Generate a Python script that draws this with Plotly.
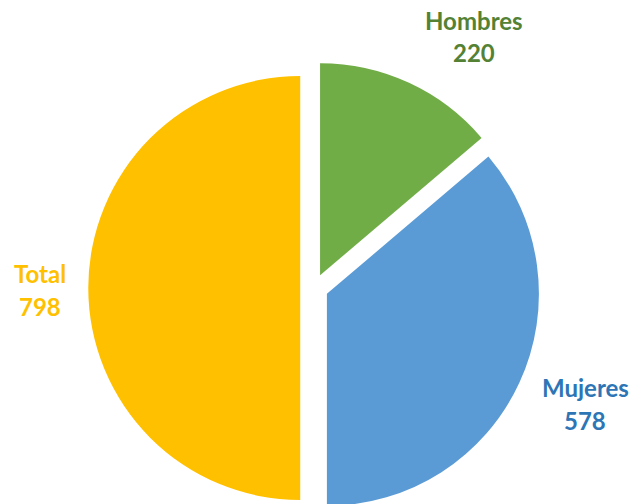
import plotly.graph_objects as go

labels = ["Hombres", "Mujeres", "Total"]
values = [220, 578, 798]
slice_colors = ["#70AD47", "#5B9BD5", "#FFC000"]
label_colors = ["#548235", "#2E75B6", "#FFC000"]

W, H = 632, 514
PULL = 0.066

fig = go.Figure(go.Pie(
    labels=labels,
    values=values,
    sort=False,
    direction="clockwise",
    rotation=0,
    pull=[PULL] * len(values),
    marker=dict(colors=slice_colors, line=dict(width=0)),
    textinfo="none",
    hoverinfo="label+value",
    showlegend=False,
    domain=dict(x=[88.2 / W, 540.2 / W], y=[0, 452 / H]),
))

# label line positions in pixels: x centre, y of first line, y of second line (from top)
label_pos = [(474, 22, 54), (585, 388, 421), (40, 274, 307)]
for lab, val, col, (px, py1, py2) in zip(labels, values, label_colors, label_pos):
    for txt, py in ((lab, py1), (str(val), py2)):
        fig.add_annotation(
            x=px / W, y=1 - (py - 1) / H, xref="paper", yref="paper",
            text=f"<b>{txt}</b>", showarrow=False,
            font=dict(family="Lato", size=24, color=col),
            align="center", xanchor="center", yanchor="middle",
        )

fig.update_layout(
    width=W, height=H,
    margin=dict(l=0, r=0, t=0, b=0),
    paper_bgcolor="white", plot_bgcolor="white",
)

fig.write_html(
    "out.html",
    config={"displayModeBar": False},
    post_script="document.body.style.margin='0';document.body.style.overflow='hidden';document.documentElement.style.overflow='hidden';",
)
